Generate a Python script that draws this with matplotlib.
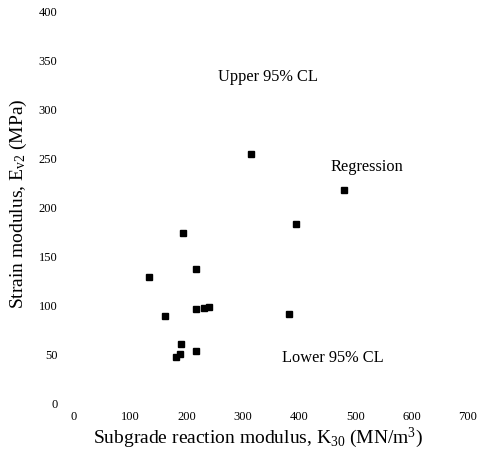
import matplotlib

matplotlib.use("Agg")

import matplotlib.pyplot as plt

# K30 (MN/m3) vs Ev2 (MPa)
k30 = [315, 479, 394, 193, 217, 133, 217, 231, 239, 162, 382, 190, 188, 182, 217]
ev2 = [254.6, 218, 183, 174, 137, 129, 96.4, 97.4, 98.5, 89, 91.3, 60.6, 50.4, 47.3, 53.5]

x_ticks = [0, 100, 200, 300, 400, 500, 600, 700]
y_ticks = [0, 50, 100, 150, 200, 250, 300, 350, 400]

plt.rcParams["font.family"] = ["Liberation Serif", "DejaVu Serif"]
plt.rcParams["mathtext.fontset"] = "custom"
plt.rcParams["mathtext.rm"] = "Liberation Serif"
plt.rcParams["mathtext.it"] = "Liberation Serif:italic"

fig = plt.figure(figsize=(4.79, 4.58), dpi=100)
ax = fig.add_axes([0.1545, 0.120, 0.8225, 0.854])

ax.plot(k30, ev2, linestyle="none", marker="s", markersize=4.5, color="black")

ax.set_xlim(0, 700)
ax.set_ylim(0, 400)
ax.set_xticks(x_ticks)
ax.set_yticks(y_ticks)
ax.tick_params(axis="both", length=0, labelsize=9)
ax.tick_params(axis="x", pad=6)
ax.tick_params(axis="y", pad=12)
for s in ax.spines.values():
    s.set_visible(False)

ax.set_xlabel(r"Subgrade reaction modulus, K$_{30}$ (MN/m$^{3}$)", fontsize=14)
ax.set_ylabel(r"Strain modulus, E$_{\mathrm{v2}}$ (MPa)", fontsize=14)
ax.xaxis.set_label_coords(0.468, -0.058)
ax.yaxis.set_label_coords(-0.115, 0.51)

ax.text(345, 333, "Upper 95% CL", ha="center", va="center", fontsize=11.8)
ax.text(520, 241, "Regression", ha="center", va="center", fontsize=11.8)
ax.text(460, 46, "Lower 95% CL", ha="center", va="center", fontsize=11.8)

fig.savefig("out.png", dpi=100, facecolor="white")
plt.close(fig)
